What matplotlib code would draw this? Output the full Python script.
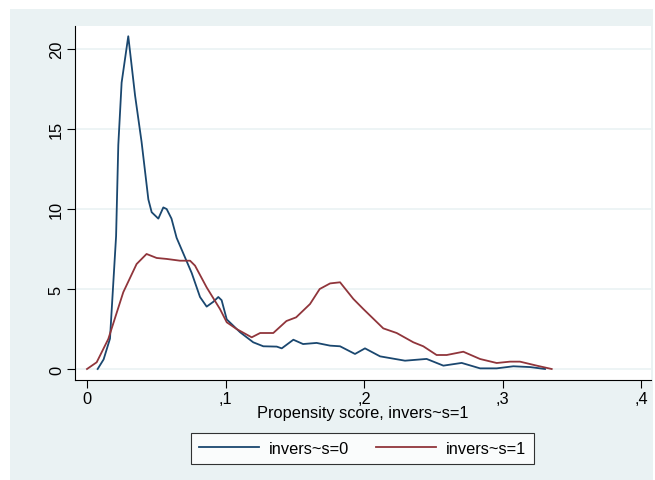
import matplotlib.pyplot as plt

# kernel density of the propensity score
score_0 = [0.0077, 0.012, 0.0166, 0.021, 0.0226, 0.025, 0.0298, 0.0347, 0.0394,
           0.0443, 0.0467, 0.0515, 0.0551, 0.0575, 0.061, 0.0647, 0.0756, 0.0816,
           0.0864, 0.0912, 0.0948, 0.0972, 0.1009, 0.1105, 0.120, 0.1273, 0.137,
           0.1406, 0.149, 0.156, 0.1658, 0.1755, 0.1827, 0.1935, 0.2007, 0.2116,
           0.2296, 0.2452, 0.2573, 0.2705, 0.2838, 0.2958, 0.3078, 0.32, 0.3307]
density_0 = [0, 0.6, 1.9, 8.3, 14, 17.9, 20.8, 17.1, 14.2,
             10.6, 9.8, 9.4, 10.1, 10.0, 9.4, 8.2, 6.0, 4.5,
             3.9, 4.2, 4.5, 4.3, 3.1, 2.3, 1.67, 1.42, 1.4,
             1.29, 1.83, 1.56, 1.63, 1.46, 1.42, 0.94, 1.29, 0.79,
             0.52, 0.63, 0.21, 0.38, 0.04, 0.04, 0.17, 0.12, 0]

score_1 = [0.0, 0.007, 0.0154, 0.0262, 0.0358, 0.043, 0.0503, 0.0575, 0.0671,
           0.0744, 0.078, 0.0864, 0.096, 0.1009, 0.108, 0.1189, 0.125, 0.1345,
           0.144, 0.151, 0.161, 0.168, 0.1755, 0.1827, 0.1923, 0.1995, 0.2139,
           0.2236, 0.2356, 0.2428, 0.2524, 0.2597, 0.2717, 0.2838, 0.2958, 0.3054,
           0.3126, 0.3247, 0.3355]
density_1 = [0, 0.42, 1.88, 4.8, 6.56, 7.19, 6.94, 6.88, 6.77,
             6.77, 6.46, 5.1, 3.75, 2.92, 2.5, 1.98, 2.25, 2.25,
             3.0, 3.23, 4.06, 5.0, 5.35, 5.42, 4.38, 3.75, 2.54,
             2.25, 1.67, 1.42, 0.875, 0.875, 1.08, 0.625, 0.375, 0.46,
             0.46, 0.21, 0]

x_ticks = [0, 0.1, 0.2, 0.3, 0.4]
x_tick_labels = ["0", ",1", ",2", ",3", ",4"]
y_ticks = [0, 5, 10, 15, 20]
labels = ["invers~s=0", "invers~s=1"]

plt.rcParams['font.family'] = ['Liberation Sans', 'DejaVu Sans']

bg = "#eaf2f3"
fs = 11.8
fig = plt.figure(figsize=(6.55, 4.81), dpi=100)
fig.patch.set_facecolor("white")
# grey graph region inside a thin white border
fig.patches.append(plt.Rectangle((10 / 655, 0), 643 / 655, 471 / 481,
                                 transform=fig.transFigure, facecolor=bg,
                                 edgecolor="none", zorder=-10))

ax = fig.add_axes([75 / 655, 1 - 381 / 481, 576 / 655, 354 / 481])
ax.set_facecolor("white")

ax.plot(score_0, density_0, color="#1a476f", lw=1.3, label=labels[0])
ax.plot(score_1, density_1, color="#90353b", lw=1.3, label=labels[1])

ax.set_xlim(-0.00866, 0.4072)
ax.set_ylim(-0.6875, 21.44)
ax.set_xticks(x_ticks)
ax.set_xticklabels(x_tick_labels)
ax.set_yticks(y_ticks)
ax.set_yticklabels([str(v) for v in y_ticks], rotation=90, va="center")
ax.grid(axis="y", color=bg, lw=1.2)
ax.set_axisbelow(True)
for side in ["top", "right"]:
    ax.spines[side].set_visible(False)
for side in ["left", "bottom"]:
    ax.spines[side].set_color("#000000")
    ax.spines[side].set_linewidth(0.8)
ax.tick_params(direction="out", length=6, width=0.8, labelsize=fs, pad=2,
               color="#000000")
ax.set_xlabel("Propensity score, invers~s=1", fontsize=fs, labelpad=-1)

leg = ax.legend(loc="center", bbox_to_anchor=(362.5 / 655, 1 - 449.5 / 481),
                bbox_transform=fig.transFigure, ncol=2, fontsize=fs,
                frameon=True, fancybox=False, edgecolor="black",
                handlelength=3.7, columnspacing=1.6, handletextpad=0.6,
                borderpad=0.5)
leg.get_frame().set_linewidth(0.8)

fig.savefig("out.png", dpi=100)
